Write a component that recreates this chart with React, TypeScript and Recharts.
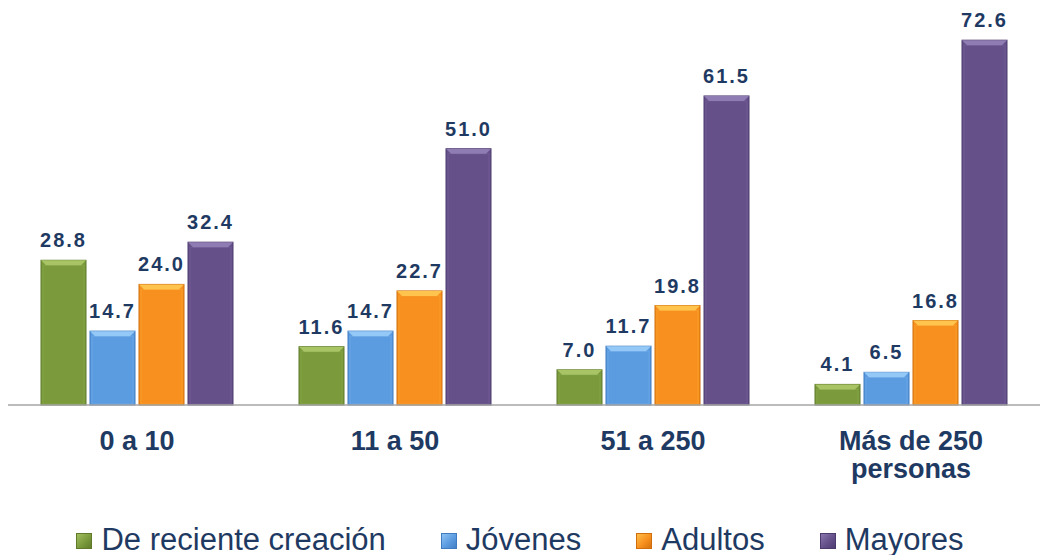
import React from "react";
import { BarChart, Bar, XAxis, YAxis, Legend, LabelList } from "recharts";

const tickLines = [["0 a 10"], ["11 a 50"], ["51 a 250"], ["Más de 250", "personas"]];
const reciente = [28.8, 11.6, 7.0, 4.1];
const jovenes = [14.7, 14.7, 11.7, 6.5];
const adultos = [24.0, 22.7, 19.8, 16.8];
const mayores = [32.4, 51.0, 61.5, 72.6];
const boundaries = [0, 1, 2, 3, 4];

const series = [
  { key: "reciente", name: "De reciente creación", color: "#7A9A3C", light: "#A8C464", dark: "#5E7A2A" },
  { key: "jovenes", name: "Jóvenes", color: "#5B9BE0", light: "#94C8F6", dark: "#3F7BC0" },
  { key: "adultos", name: "Adultos", color: "#F7901E", light: "#FFC44E", dark: "#D06E0C" },
  { key: "mayores", name: "Mayores", color: "#65508A", light: "#8F7CB2", dark: "#4C3A6E" },
];

const data = tickLines.map((lines, i) => ({
  category: lines.join(" "),
  reciente: reciente[i],
  jovenes: jovenes[i],
  adultos: adultos[i],
  mayores: mayores[i],
}));

const TEXT = "#1F3A62";
const FONT = "'Liberation Sans', Arial, sans-serif";

// bar with a light bevel along the top edge
function BevelBar(props: any) {
  const { x, y, width, height, color, light, dark } = props;
  if (!height || height <= 0) return null;
  const b = Math.min(5, height / 2);
  return (
    <g>
      <rect x={x} y={y} width={width} height={height} fill={color} stroke={dark} strokeWidth={1} />
      <rect x={x + 2} y={y + b} width={width - 4} height={height - b - 1} fill="none" stroke={light} strokeOpacity={0.25} strokeWidth={1} />
      <polygon
        points={`${x},${y} ${x + width},${y} ${x + width - b},${y + b} ${x + b},${y + b}`}
        fill={light}
      />
    </g>
  );
}

// axis tick y arrives 10px below the baseline (boundary axis sits above)
function CategoryTick(props: any) {
  const { x, y, index } = props;
  const lines = tickLines[index] || [];
  return (
    <text x={x} y={y} textAnchor="middle" fill={TEXT} fontFamily={FONT} fontWeight="bold" fontSize={27}>
      {lines.map((l, i) => (
        <tspan key={i} x={x} y={y + 35 + i * 28}>
          {l}
        </tspan>
      ))}
    </text>
  );
}

function LegendContent() {
  return (
    <div
      style={{
        display: "flex",
        justifyContent: "center",
        alignItems: "center",
        paddingTop: 20,
        fontFamily: FONT,
        fontSize: 31,
        lineHeight: "30px",
        color: TEXT,
      }}
    >
      {series.map((s, i) => (
        <div key={s.key} style={{ display: "flex", alignItems: "center", marginLeft: i === 0 ? 0 : 55 }}>
          <span
            style={{
              display: "inline-block",
              width: 16,
              height: 16,
              marginRight: 9,
              marginTop: 2,
              background: `linear-gradient(135deg, ${s.light}, ${s.color} 55%, ${s.dark})`,
              boxShadow: `inset 0 0 0 1px ${s.dark}`,
            }}
          />
          <span>{s.name}</span>
        </div>
      ))}
    </div>
  );
}

export default function App() {
  return (
    <div style={{ position: "absolute", left: 0, top: 0, background: "#fff" }}>
      <BarChart
        width={1040}
        height={555}
        data={data}
        margin={{ top: 3, right: 0, bottom: 0, left: 8 }}
        barCategoryGap="13%"
        barGap={4}
        barSize={45}
      >
        <XAxis
          xAxisId={0}
          type="number"
          domain={[0, 4]}
          ticks={boundaries}
          tick={false}
          tickSize={10}
          height={10}
          allowDataOverflow
          axisLine={{ stroke: "#A6A6A6", strokeWidth: 1.5 }}
          tickLine={{ stroke: "#A6A6A6", strokeWidth: 1.5 }}
        />
        <XAxis
          xAxisId="cat"
          dataKey="category"
          axisLine={false}
          tickLine={false}
          tickSize={0}
          tickMargin={0}
          height={90}
          interval={0}
          tick={<CategoryTick />}
        />
        <YAxis hide domain={[0, 80]} />
        <Legend
          verticalAlign="bottom"
          content={<LegendContent />}
          wrapperStyle={{ left: 0, width: 1040, height: 50 }}
        />
        {series.map((s) => (
          <Bar
            key={s.key}
            xAxisId="cat"
            dataKey={s.key}
            name={s.name}
            fill={s.color}
            isAnimationActive={false}
            shape={(p: any) => <BevelBar {...p} color={s.color} light={s.light} dark={s.dark} />}
          >
            <LabelList
              dataKey={s.key}
              position="top"
              offset={13}
              formatter={(v: any) => Number(v).toFixed(1)}
              fill={TEXT}
              fontFamily={FONT}
              fontWeight="bold"
              fontSize={20}
              letterSpacing={2}
            />
          </Bar>
        ))}
      </BarChart>
    </div>
  );
}
